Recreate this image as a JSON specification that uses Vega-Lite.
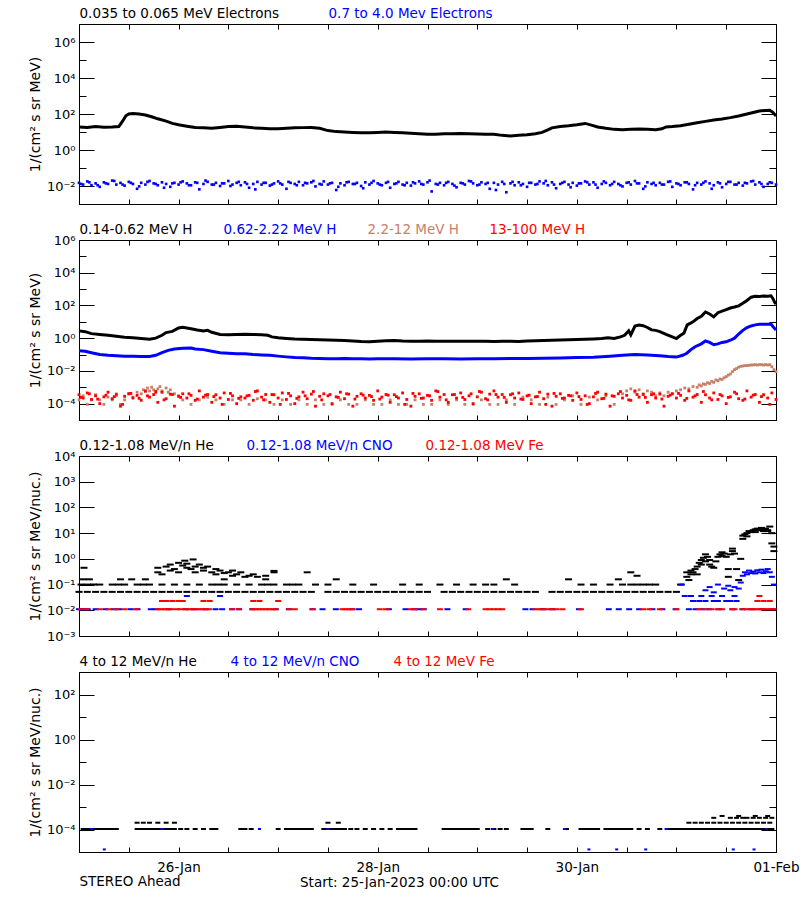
{
"$schema":"https://vega.github.io/schema/vega-lite/v6.json",
"padding":{"left":27,"top":6,"right":0,"bottom":0},
"background":"white",
"spacing":36,
"bounds":"flush",
"config":{
 "view":{"stroke":"#000000","strokeWidth":1},
 "axis":{"grid":false,"domain":false,"tickColor":"#000000","labelColor":"#000000","titleColor":"#000000","labelFont":"DejaVu Sans","labelFontSize":13,"titleFont":"DejaVu Sans","titleFontSize":14,"titleFontWeight":"normal","tickWidth":1},
 "legend":{"labelFont":"DejaVu Sans","labelFontSize":13.5,"labelLimit":0,"padding":0}
},
"resolve":{"scale":{"x":"independent","y":"independent","color":"independent"},"legend":{"color":"independent"}},
"vconcat":[
{
 "width":697,"height":180,
 "encoding":{
  "x":{"field":"h","type":"quantitative","scale":{"domain":[0,168],"nice":false,"zero":false},"axis":null},
  "y":{"field":"v","type":"quantitative","scale":{"type":"log","domain":[0.001,10000000],"nice":false},"axis":null}
 },
 "layer":[
  {"data":{"values":[{"h":0,"v":19},{"h":2,"v":18},{"h":4,"v":20},{"h":6,"v":18.5},{"h":8,"v":19},{"h":9.6,"v":20},{"h":10.5,"v":40},{"h":11.3,"v":80},{"h":12,"v":100},{"h":13,"v":106},{"h":14.5,"v":100},{"h":16,"v":88},{"h":17.5,"v":70},{"h":19,"v":54},{"h":21,"v":40},{"h":22.5,"v":30},{"h":24,"v":25},{"h":26,"v":21},{"h":28,"v":18},{"h":30,"v":17},{"h":32,"v":16},{"h":34,"v":18},{"h":36,"v":20},{"h":38,"v":21},{"h":40,"v":19},{"h":42,"v":17},{"h":44,"v":16},{"h":46,"v":15},{"h":48,"v":15},{"h":50,"v":16},{"h":52,"v":17},{"h":54,"v":17.5},{"h":56,"v":18},{"h":58,"v":16},{"h":60,"v":12},{"h":62,"v":10.5},{"h":64,"v":10},{"h":66,"v":9.5},{"h":68,"v":9},{"h":70,"v":9},{"h":72,"v":9.5},{"h":74,"v":10},{"h":76,"v":9.5},{"h":78,"v":9},{"h":80,"v":8.5},{"h":82,"v":8},{"h":84,"v":7.5},{"h":86,"v":7.6},{"h":88,"v":8},{"h":90,"v":8},{"h":92,"v":8.3},{"h":94,"v":8},{"h":96,"v":7.8},{"h":98,"v":7.6},{"h":100,"v":7.4},{"h":102,"v":6.5},{"h":104,"v":6},{"h":106,"v":6.5},{"h":108,"v":7},{"h":110,"v":8},{"h":111.6,"v":9.5},{"h":113,"v":13},{"h":114,"v":17},{"h":116,"v":20},{"h":118,"v":22},{"h":120,"v":25},{"h":122,"v":30},{"h":123.5,"v":24},{"h":125,"v":19},{"h":127,"v":16},{"h":129,"v":14},{"h":131,"v":13.5},{"h":133,"v":14},{"h":135,"v":14.5},{"h":137,"v":14},{"h":139,"v":13.5},{"h":140.5,"v":15},{"h":141.5,"v":19},{"h":143,"v":20},{"h":145,"v":22},{"h":147,"v":27},{"h":149,"v":33},{"h":151,"v":39},{"h":153,"v":46},{"h":155,"v":53},{"h":157,"v":63},{"h":159,"v":78},{"h":161,"v":100},{"h":162.5,"v":122},{"h":164,"v":145},{"h":165.5,"v":158},{"h":166.5,"v":162},{"h":167.3,"v":120},{"h":168,"v":78}]},
   "mark":{"type":"line","strokeWidth":3},
   "encoding":{
    "x":{"field":"h","type":"quantitative","scale":{"domain":[0,168],"nice":false,"zero":false},"axis":{"orient":"bottom","values":[0,12,24,36,48,60,72,84,96,108,120,132,144,156,168],"tickSize":-5,"labels":false,"title":null}},
    "y":{"field":"v","type":"quantitative","scale":{"type":"log","domain":[0.001,10000000],"nice":false},"axis":{"orient":"left","values":[0.001,0.01,0.1,1,10,100,1000,10000,100000,1000000,10000000],"tickSize":{"condition":{"test":"round(log(datum.value)/LN10)%2!=0","value":-7},"value":-15},"labelPadding":19,"labelOverlap":false,"labelFlush":false,"labelExpr":"['','10⁻²','','10⁰','','10²','','10⁴','','10⁶',''][round(log(datum.value)/LN10)+3]","title":"1/(cm² s sr MeV)","titleX":-40,"titleY":90,"titleAngle":-90,"titleAlign":"center","titleBaseline":"alphabetic"}},
    "color":{"datum":"0.035 to 0.065 MeV Electrons","type":"nominal","scale":{"domain":["0.035 to 0.065 MeV Electrons","0.7 to 4.0 Mev Electrons"],"range":["#000000","#0000ff"]},
     "legend":{"orient":"none","legendX":-13,"legendY":-17,"direction":"horizontal","title":null,"symbolSize":0.01,"symbolStrokeWidth":0,"symbolOpacity":0,"labelOffset":0.01,"columnPadding":35,"encode":{"labels":{"update":{"fill":{"signal":"['#000000','#0000ff'][datum.index]"}}}}}}
   }},
  {"data":{"values":[{"h":0,"v":0.015},{"h":1,"v":0.012},{"h":2,"v":0.018},{"h":3,"v":0.011},{"h":4,"v":0.014},{"h":5,"v":0.009},{"h":6,"v":0.016},{"h":7,"v":0.013},{"h":8,"v":0.02},{"h":9,"v":0.012},{"h":10,"v":0.015},{"h":11,"v":0.0105},{"h":12,"v":0.017},{"h":13,"v":0.013},{"h":14,"v":0.007},{"h":15,"v":0.015},{"h":16,"v":0.012},{"h":17,"v":0.019},{"h":18,"v":0.014},{"h":19,"v":0.011},{"h":20,"v":0.016},{"h":21,"v":0.013},{"h":22,"v":0.009},{"h":23,"v":0.015},{"h":24,"v":0.012},{"h":25,"v":0.018},{"h":26,"v":0.014},{"h":27,"v":0.011},{"h":28,"v":0.016},{"h":29,"v":0.0065},{"h":30,"v":0.013},{"h":31,"v":0.017},{"h":32,"v":0.012},{"h":33,"v":0.015},{"h":34,"v":0.01},{"h":35,"v":0.014},{"h":36,"v":0.019},{"h":37,"v":0.012},{"h":38,"v":0.015},{"h":39,"v":0.011},{"h":40,"v":0.016},{"h":41,"v":0.008},{"h":42,"v":0.013},{"h":43,"v":0.017},{"h":44,"v":0.012},{"h":45,"v":0.015},{"h":46,"v":0.0105},{"h":47,"v":0.014},{"h":48,"v":0.018},{"h":49,"v":0.012},{"h":50,"v":0.007},{"h":51,"v":0.015},{"h":52,"v":0.013},{"h":53,"v":0.017},{"h":54,"v":0.011},{"h":55,"v":0.014},{"h":56,"v":0.016},{"h":57,"v":0.0095},{"h":58,"v":0.013},{"h":59,"v":0.018},{"h":60,"v":0.012},{"h":61,"v":0.015},{"h":62,"v":0.006},{"h":63,"v":0.014},{"h":64,"v":0.011},{"h":65,"v":0.017},{"h":66,"v":0.013},{"h":67,"v":0.015},{"h":68,"v":0.01},{"h":69,"v":0.016},{"h":70,"v":0.012},{"h":71,"v":0.019},{"h":72,"v":0.014},{"h":73,"v":0.011},{"h":74,"v":0.015},{"h":75,"v":0.008},{"h":76,"v":0.013},{"h":77,"v":0.017},{"h":78,"v":0.012},{"h":79,"v":0.015},{"h":80,"v":0.0105},{"h":81,"v":0.014},{"h":82,"v":0.018},{"h":83,"v":0.012},{"h":84,"v":0.016},{"h":85,"v":0.005},{"h":86,"v":0.013},{"h":87,"v":0.015},{"h":88,"v":0.011},{"h":89,"v":0.017},{"h":90,"v":0.013},{"h":91,"v":0.0085},{"h":92,"v":0.015},{"h":93,"v":0.012},{"h":94,"v":0.019},{"h":95,"v":0.014},{"h":96,"v":0.011},{"h":97,"v":0.016},{"h":98,"v":0.013},{"h":99,"v":0.007},{"h":100,"v":0.015},{"h":101,"v":0.012},{"h":102,"v":0.017},{"h":103,"v":0.0045},{"h":104,"v":0.014},{"h":105,"v":0.011},{"h":106,"v":0.016},{"h":107,"v":0.013},{"h":108,"v":0.009},{"h":109,"v":0.015},{"h":110,"v":0.012},{"h":111,"v":0.018},{"h":112,"v":0.014},{"h":113,"v":0.011},{"h":114,"v":0.016},{"h":115,"v":0.0075},{"h":116,"v":0.013},{"h":117,"v":0.017},{"h":118,"v":0.012},{"h":119,"v":0.015},{"h":120,"v":0.0105},{"h":121,"v":0.014},{"h":122,"v":0.018},{"h":123,"v":0.012},{"h":124,"v":0.016},{"h":125,"v":0.008},{"h":126,"v":0.013},{"h":127,"v":0.015},{"h":128,"v":0.011},{"h":129,"v":0.017},{"h":130,"v":0.013},{"h":131,"v":0.0095},{"h":132,"v":0.015},{"h":133,"v":0.012},{"h":134,"v":0.019},{"h":135,"v":0.014},{"h":136,"v":0.007},{"h":137,"v":0.016},{"h":138,"v":0.013},{"h":139,"v":0.011},{"h":140,"v":0.015},{"h":141,"v":0.012},{"h":142,"v":0.017},{"h":143,"v":0.009},{"h":144,"v":0.014},{"h":145,"v":0.011},{"h":146,"v":0.016},{"h":147,"v":0.013},{"h":148,"v":0.0065},{"h":149,"v":0.015},{"h":150,"v":0.012},{"h":151,"v":0.018},{"h":152,"v":0.014},{"h":153,"v":0.011},{"h":154,"v":0.016},{"h":155,"v":0.0085},{"h":156,"v":0.013},{"h":157,"v":0.017},{"h":158,"v":0.012},{"h":159,"v":0.015},{"h":160,"v":0.0105},{"h":161,"v":0.014},{"h":162,"v":0.018},{"h":163,"v":0.012},{"h":164,"v":0.016},{"h":165,"v":0.009},{"h":166,"v":0.013},{"h":167,"v":0.015},{"h":168,"v":0.012},{"h":0.5,"v":0.013},{"h":2.5,"v":0.016},{"h":4.5,"v":0.011},{"h":6.5,"v":0.014},{"h":8.5,"v":0.019},{"h":10.5,"v":0.012},{"h":12.5,"v":0.015},{"h":14.5,"v":0.0095},{"h":16.5,"v":0.017},{"h":18.5,"v":0.013},{"h":20.5,"v":0.008},{"h":22.5,"v":0.014},{"h":24.5,"v":0.016},{"h":26.5,"v":0.011},{"h":28.5,"v":0.015},{"h":30.5,"v":0.02},{"h":32.5,"v":0.012},{"h":34.5,"v":0.014},{"h":36.5,"v":0.01},{"h":38.5,"v":0.017},{"h":40.5,"v":0.013},{"h":42.5,"v":0.0065},{"h":44.5,"v":0.015},{"h":46.5,"v":0.012},{"h":48.5,"v":0.014},{"h":50.5,"v":0.017},{"h":52.5,"v":0.011},{"h":54.5,"v":0.015},{"h":56.5,"v":0.019},{"h":58.5,"v":0.012},{"h":60.5,"v":0.014},{"h":62.5,"v":0.009},{"h":64.5,"v":0.016},{"h":66.5,"v":0.013},{"h":68.5,"v":0.0075},{"h":70.5,"v":0.015},{"h":72.5,"v":0.012},{"h":74.5,"v":0.017},{"h":76.5,"v":0.014},{"h":78.5,"v":0.011},{"h":80.5,"v":0.016},{"h":82.5,"v":0.013},{"h":84.5,"v":0.02},{"h":86.5,"v":0.012},{"h":88.5,"v":0.015},{"h":90.5,"v":0.0105},{"h":92.5,"v":0.014},{"h":94.5,"v":0.018},{"h":96.5,"v":0.012},{"h":98.5,"v":0.015},{"h":100.5,"v":0.006},{"h":102.5,"v":0.013},{"h":104.5,"v":0.017},{"h":106.5,"v":0.011},{"h":108.5,"v":0.015},{"h":110.5,"v":0.013},{"h":112.5,"v":0.019},{"h":114.5,"v":0.012},{"h":116.5,"v":0.015},{"h":118.5,"v":0.0085},{"h":120.5,"v":0.014},{"h":122.5,"v":0.016},{"h":124.5,"v":0.012},{"h":126.5,"v":0.018},{"h":128.5,"v":0.013},{"h":130.5,"v":0.011},{"h":132.5,"v":0.016},{"h":134.5,"v":0.014},{"h":136.5,"v":0.0095},{"h":138.5,"v":0.015},{"h":140.5,"v":0.012},{"h":142.5,"v":0.018},{"h":144.5,"v":0.013},{"h":146.5,"v":0.016},{"h":148.5,"v":0.011},{"h":150.5,"v":0.015},{"h":152.5,"v":0.007},{"h":154.5,"v":0.014},{"h":156.5,"v":0.017},{"h":158.5,"v":0.012},{"h":160.5,"v":0.015},{"h":162.5,"v":0.019},{"h":164.5,"v":0.013},{"h":166.5,"v":0.016}]},
   "mark":{"type":"square","size":7,"opacity":1},
   "encoding":{
    "x":{"field":"h","type":"quantitative","scale":{"domain":[0,168],"nice":false,"zero":false},"axis":{"orient":"top","values":[0,12,24,36,48,60,72,84,96,108,120,132,144,156,168],"tickSize":-5,"labels":false,"title":null}},
    "y":{"field":"v","type":"quantitative","scale":{"type":"log","domain":[0.001,10000000],"nice":false},"axis":{"orient":"right","values":[0.001,0.01,0.1,1,10,100,1000,10000,100000,1000000,10000000],"tickSize":{"condition":{"test":"round(log(datum.value)/LN10)%2!=0","value":-7},"value":-15},"labels":false,"title":null}},
    "color":{"datum":"0.7 to 4.0 Mev Electrons","type":"nominal"}
   }}
 ],
 "resolve":{"axis":{"x":"independent","y":"independent"}}
},
{
 "width":697,"height":180,
 "encoding":{
  "x":{"field":"h","type":"quantitative","scale":{"domain":[0,168],"nice":false,"zero":false},"axis":null},
  "y":{"field":"v","type":"quantitative","scale":{"type":"log","domain":[0.00001,1000000],"nice":false},"axis":null}
 },
 "layer":[
  {"data":{"values":[{"h":0,"v":2.8},{"h":1.5,"v":2.5},{"h":3,"v":1.9},{"h":5,"v":1.7},{"h":7,"v":1.5},{"h":9,"v":1.3},{"h":11,"v":1.15},{"h":13,"v":1.07},{"h":15,"v":0.95},{"h":17,"v":0.85},{"h":18.5,"v":1},{"h":20,"v":1.5},{"h":21,"v":2.2},{"h":22.5,"v":2.6},{"h":24,"v":4.2},{"h":25,"v":4.6},{"h":26,"v":4.2},{"h":27,"v":3.8},{"h":28.5,"v":3.2},{"h":30,"v":2.8},{"h":31,"v":3},{"h":32,"v":2.3},{"h":34,"v":1.7},{"h":36,"v":1.6},{"h":38,"v":1.7},{"h":40,"v":1.75},{"h":42,"v":1.7},{"h":44,"v":1.6},{"h":45.5,"v":1.5},{"h":46.5,"v":1.2},{"h":48,"v":1.05},{"h":50,"v":0.95},{"h":52,"v":0.88},{"h":54,"v":0.85},{"h":56,"v":0.82},{"h":58,"v":0.8},{"h":60,"v":0.78},{"h":62,"v":0.76},{"h":64,"v":0.72},{"h":66,"v":0.68},{"h":68,"v":0.62},{"h":70,"v":0.6},{"h":72,"v":0.65},{"h":74,"v":0.7},{"h":76,"v":0.72},{"h":78,"v":0.68},{"h":80,"v":0.66},{"h":82,"v":0.65},{"h":84,"v":0.67},{"h":86,"v":0.66},{"h":88,"v":0.65},{"h":90,"v":0.66},{"h":92,"v":0.64},{"h":94,"v":0.65},{"h":96,"v":0.66},{"h":98,"v":0.64},{"h":100,"v":0.63},{"h":102,"v":0.65},{"h":104,"v":0.66},{"h":106,"v":0.62},{"h":108,"v":0.68},{"h":110,"v":0.7},{"h":112,"v":0.72},{"h":114,"v":0.75},{"h":116,"v":0.78},{"h":118,"v":0.8},{"h":120,"v":0.82},{"h":122,"v":0.85},{"h":124,"v":0.9},{"h":126,"v":0.95},{"h":127.5,"v":1.05},{"h":129,"v":0.95},{"h":130.5,"v":1.2},{"h":131.5,"v":1.5},{"h":132.5,"v":2.8},{"h":133,"v":1.6},{"h":134,"v":5.5},{"h":135,"v":6.3},{"h":136,"v":5.8},{"h":137,"v":4.5},{"h":138,"v":3.2},{"h":139,"v":3},{"h":140,"v":2.5},{"h":141.5,"v":1.7},{"h":143,"v":1.2},{"h":144,"v":0.95},{"h":145,"v":1.5},{"h":145.8,"v":2},{"h":146.6,"v":6.5},{"h":147.3,"v":8},{"h":148,"v":10},{"h":149,"v":16},{"h":150,"v":22},{"h":151,"v":40},{"h":152,"v":30},{"h":153,"v":20},{"h":154,"v":36},{"h":155,"v":45},{"h":156,"v":55},{"h":157,"v":70},{"h":158,"v":80},{"h":159,"v":95},{"h":160,"v":135},{"h":161,"v":200},{"h":162,"v":320},{"h":163,"v":360},{"h":164,"v":350},{"h":165,"v":380},{"h":166,"v":370},{"h":166.8,"v":390},{"h":167.3,"v":250},{"h":167.7,"v":150},{"h":168,"v":120}]},
   "mark":{"type":"line","strokeWidth":3},
   "encoding":{
    "x":{"field":"h","type":"quantitative","scale":{"domain":[0,168],"nice":false,"zero":false},"axis":{"orient":"bottom","values":[0,12,24,36,48,60,72,84,96,108,120,132,144,156,168],"tickSize":-5,"labels":false,"title":null}},
    "y":{"field":"v","type":"quantitative","scale":{"type":"log","domain":[0.00001,1000000],"nice":false},"axis":{"orient":"left","values":[0.00001,0.0001,0.001,0.01,0.1,1,10,100,1000,10000,100000,1000000],"tickSize":{"condition":{"test":"round(log(datum.value)/LN10)%2!=0","value":-7},"value":-15},"labelPadding":19,"labelOverlap":false,"labelFlush":false,"labelExpr":"['','10⁻⁴','','10⁻²','','10⁰','','10²','','10⁴','','10⁶'][round(log(datum.value)/LN10)+5]","title":"1/(cm² s sr MeV)","titleX":-40,"titleY":90,"titleAngle":-90,"titleAlign":"center","titleBaseline":"alphabetic"}},
    "color":{"datum":"0.14-0.62 MeV H","type":"nominal","scale":{"domain":["0.14-0.62 MeV H","0.62-2.22 MeV H","2.2-12 MeV H","13-100 MeV H"],"range":["#000000","#0000ff","#c88068","#ff0000"]},
     "legend":{"orient":"none","legendX":-13,"legendY":-17,"direction":"horizontal","title":null,"symbolSize":0.01,"symbolStrokeWidth":0,"symbolOpacity":0,"labelOffset":0.01,"columnPadding":17,"encode":{"labels":{"update":{"fill":{"signal":"['#000000','#0000ff','#c88068','#ff0000'][datum.index]"}}}}}}
   }},
  {"data":{"values":[{"h":0,"v":0.17},{"h":1.5,"v":0.16},{"h":3,"v":0.13},{"h":5,"v":0.1},{"h":7,"v":0.09},{"h":9,"v":0.085},{"h":11,"v":0.08},{"h":13,"v":0.08},{"h":15,"v":0.075},{"h":17,"v":0.075},{"h":18.5,"v":0.09},{"h":20,"v":0.13},{"h":21.5,"v":0.18},{"h":23,"v":0.22},{"h":25,"v":0.24},{"h":27,"v":0.25},{"h":28,"v":0.22},{"h":30,"v":0.2},{"h":32,"v":0.16},{"h":34,"v":0.13},{"h":36,"v":0.12},{"h":38,"v":0.11},{"h":40,"v":0.11},{"h":42,"v":0.1},{"h":44,"v":0.095},{"h":46,"v":0.09},{"h":48,"v":0.08},{"h":50,"v":0.072},{"h":52,"v":0.066},{"h":54,"v":0.064},{"h":56,"v":0.06},{"h":58,"v":0.058},{"h":60,"v":0.056},{"h":62,"v":0.055},{"h":64,"v":0.057},{"h":66,"v":0.055},{"h":68,"v":0.056},{"h":70,"v":0.054},{"h":72,"v":0.055},{"h":74,"v":0.056},{"h":76,"v":0.055},{"h":80,"v":0.054},{"h":84,"v":0.056},{"h":88,"v":0.055},{"h":92,"v":0.054},{"h":96,"v":0.056},{"h":100,"v":0.056},{"h":104,"v":0.057},{"h":108,"v":0.058},{"h":112,"v":0.06},{"h":116,"v":0.062},{"h":120,"v":0.065},{"h":124,"v":0.068},{"h":128,"v":0.08},{"h":131,"v":0.09},{"h":134,"v":0.1},{"h":137,"v":0.095},{"h":140,"v":0.085},{"h":142,"v":0.075},{"h":144,"v":0.07},{"h":145.5,"v":0.09},{"h":146.5,"v":0.12},{"h":147.5,"v":0.2},{"h":148.5,"v":0.3},{"h":150,"v":0.45},{"h":151,"v":0.67},{"h":152,"v":0.55},{"h":153,"v":0.4},{"h":154,"v":0.45},{"h":155,"v":0.55},{"h":156,"v":0.6},{"h":157,"v":0.75},{"h":158,"v":1},{"h":159,"v":1.8},{"h":160,"v":3},{"h":161,"v":4.5},{"h":162,"v":5.6},{"h":163,"v":6.5},{"h":164,"v":7},{"h":165,"v":7.2},{"h":166,"v":7},{"h":166.8,"v":7.2},{"h":167.3,"v":5},{"h":168,"v":3.2}]},
   "mark":{"type":"line","strokeWidth":3},
   "encoding":{"color":{"datum":"0.62-2.22 MeV H","type":"nominal"}}},
  {"data":{"values":[{"h":0,"v":0.00017},{"h":1,"v":0.0003},{"h":2,"v":0.00009},{"h":3,"v":0.00017},{"h":4,"v":0.00035},{"h":5,"v":0.00017},{"h":6,"v":0.00009},{"h":7,"v":0.00025},{"h":8,"v":0.00017},{"h":9,"v":0.0003},{"h":10,"v":0.00009},{"h":11,"v":0.00017},{"h":12,"v":0.0004},{"h":13,"v":0.00025},{"h":14,"v":0.0005},{"h":15,"v":0.0004},{"h":15.5,"v":0.0007},{"h":16,"v":0.00055},{"h":16.5,"v":0.0009},{"h":17,"v":0.0006},{"h":17.5,"v":0.001},{"h":18,"v":0.0007},{"h":18.5,"v":0.00045},{"h":19,"v":0.0008},{"h":19.5,"v":0.0011},{"h":20,"v":0.0006},{"h":21,"v":0.0009},{"h":21.5,"v":0.0005},{"h":22,"v":0.0007},{"h":23,"v":0.0004},{"h":24,"v":0.0003},{"h":25,"v":0.00017},{"h":27,"v":0.00009},{"h":29,"v":0.00017},{"h":31,"v":0.00025},{"h":33,"v":0.00017},{"h":35,"v":0.00009},{"h":37,"v":0.00017},{"h":39,"v":0.00017},{"h":41,"v":0.00009},{"h":43,"v":0.0002},{"h":45,"v":0.00017},{"h":47,"v":0.00009},{"h":49,"v":0.00017},{"h":51,"v":0.00009},{"h":53,"v":0.00017},{"h":55,"v":0.00009},{"h":57,"v":0.00017},{"h":59,"v":0.00009},{"h":61,"v":0.00009},{"h":63,"v":0.00017},{"h":65,"v":0.00009},{"h":67,"v":0.00009},{"h":69,"v":0.00017},{"h":71,"v":0.00009},{"h":73,"v":0.00009},{"h":75,"v":0.00017},{"h":77,"v":0.00009},{"h":79,"v":0.00009},{"h":81,"v":0.00017},{"h":83,"v":0.00009},{"h":85,"v":0.00009},{"h":87,"v":0.00017},{"h":89,"v":0.00009},{"h":91,"v":0.00017},{"h":93,"v":0.00009},{"h":95,"v":0.00009},{"h":97,"v":0.00017},{"h":99,"v":0.00009},{"h":101,"v":0.00009},{"h":103,"v":0.00017},{"h":105,"v":0.00009},{"h":107,"v":0.00025},{"h":109,"v":0.00017},{"h":111,"v":0.00009},{"h":113,"v":0.00025},{"h":115,"v":0.00009},{"h":117,"v":0.00017},{"h":119,"v":0.0003},{"h":121,"v":0.00009},{"h":123,"v":0.00025},{"h":125,"v":0.00017},{"h":127,"v":0.0003},{"h":129,"v":0.00009},{"h":131,"v":0.0004},{"h":132,"v":0.0006},{"h":133,"v":0.0008},{"h":134,"v":0.0005},{"h":135,"v":0.0007},{"h":136,"v":0.0004},{"h":137,"v":0.0006},{"h":138,"v":0.0005},{"h":139,"v":0.0003},{"h":140,"v":0.00045},{"h":141,"v":0.0003},{"h":142,"v":0.0005},{"h":143,"v":0.0004},{"h":144,"v":0.0006},{"h":145,"v":0.0007},{"h":146,"v":0.0009},{"h":147,"v":0.0008},{"h":148,"v":0.0011},{"h":149,"v":0.001},{"h":149.5,"v":0.0014},{"h":150,"v":0.0012},{"h":150.5,"v":0.0016},{"h":151,"v":0.0015},{"h":151.5,"v":0.0019},{"h":152,"v":0.0017},{"h":152.5,"v":0.0023},{"h":153,"v":0.002},{"h":153.5,"v":0.0028},{"h":154,"v":0.0025},{"h":154.5,"v":0.0032},{"h":155,"v":0.003},{"h":155.5,"v":0.0038},{"h":156,"v":0.0045},{"h":156.5,"v":0.0055},{"h":157,"v":0.0065},{"h":157.5,"v":0.009},{"h":158,"v":0.012},{"h":158.5,"v":0.014},{"h":159,"v":0.017},{"h":159.5,"v":0.019},{"h":160,"v":0.02},{"h":160.5,"v":0.021},{"h":161,"v":0.021},{"h":161.5,"v":0.022},{"h":162,"v":0.023},{"h":162.5,"v":0.023},{"h":163,"v":0.024},{"h":163.5,"v":0.023},{"h":164,"v":0.024},{"h":164.5,"v":0.024},{"h":165,"v":0.023},{"h":165.5,"v":0.024},{"h":166,"v":0.023},{"h":166.5,"v":0.024},{"h":167,"v":0.018},{"h":167.5,"v":0.012},{"h":168,"v":0.009}]},
   "mark":{"type":"square","size":8,"opacity":1},
   "encoding":{
    "x":{"field":"h","type":"quantitative","scale":{"domain":[0,168],"nice":false,"zero":false},"axis":{"orient":"top","values":[0,12,24,36,48,60,72,84,96,108,120,132,144,156,168],"tickSize":-5,"labels":false,"title":null}},
    "y":{"field":"v","type":"quantitative","scale":{"type":"log","domain":[0.00001,1000000],"nice":false},"axis":{"orient":"right","values":[0.00001,0.0001,0.001,0.01,0.1,1,10,100,1000,10000,100000,1000000],"tickSize":{"condition":{"test":"round(log(datum.value)/LN10)%2!=0","value":-7},"value":-15},"labels":false,"title":null}},
    "color":{"datum":"2.2-12 MeV H","type":"nominal"}
   }},
  {"data":{"values":[{"h":0,"v":0.00035},{"h":1,"v":0.00022},{"h":2,"v":0.00045},{"h":3,"v":0.00018},{"h":4,"v":0.0003},{"h":5,"v":0.0001},{"h":6,"v":0.00026},{"h":7,"v":0.0005},{"h":8,"v":0.0002},{"h":9,"v":0.00038},{"h":10,"v":0.00007},{"h":11,"v":0.00028},{"h":12,"v":0.0004},{"h":13,"v":0.00022},{"h":14,"v":0.00032},{"h":15,"v":0.00016},{"h":16,"v":0.0006},{"h":17,"v":0.00025},{"h":18,"v":0.00036},{"h":19,"v":0.00012},{"h":20,"v":0.0005},{"h":21,"v":0.0002},{"h":22,"v":0.00038},{"h":23,"v":0.00007},{"h":24,"v":0.00028},{"h":25,"v":0.0004},{"h":26,"v":0.00022},{"h":27,"v":0.00032},{"h":28,"v":0.00016},{"h":29,"v":0.0006},{"h":30,"v":0.00025},{"h":31,"v":0.00036},{"h":32,"v":0.00012},{"h":33,"v":0.00035},{"h":34,"v":0.00022},{"h":35,"v":0.00045},{"h":36,"v":0.00018},{"h":37,"v":0.0003},{"h":38,"v":0.0001},{"h":39,"v":0.00026},{"h":40,"v":0.00022},{"h":41,"v":0.00032},{"h":42,"v":0.00016},{"h":43,"v":0.0006},{"h":44,"v":0.00025},{"h":45,"v":0.00036},{"h":46,"v":0.00012},{"h":47,"v":0.00035},{"h":48,"v":0.00022},{"h":49,"v":0.00045},{"h":50,"v":0.00018},{"h":51,"v":0.0003},{"h":52,"v":0.0001},{"h":53,"v":0.00026},{"h":54,"v":0.0005},{"h":55,"v":0.0002},{"h":56,"v":0.00038},{"h":57,"v":0.00007},{"h":58,"v":0.00028},{"h":59,"v":0.0004},{"h":60,"v":0.0003},{"h":61,"v":0.0001},{"h":62,"v":0.00026},{"h":63,"v":0.0005},{"h":64,"v":0.0002},{"h":65,"v":0.00038},{"h":66,"v":0.00007},{"h":67,"v":0.00028},{"h":68,"v":0.0004},{"h":69,"v":0.00022},{"h":70,"v":0.00032},{"h":71,"v":0.00016},{"h":72,"v":0.0006},{"h":73,"v":0.00025},{"h":74,"v":0.00036},{"h":75,"v":0.00012},{"h":76,"v":0.00035},{"h":77,"v":0.00022},{"h":78,"v":0.00045},{"h":79,"v":0.00018},{"h":80,"v":0.00007},{"h":81,"v":0.00028},{"h":82,"v":0.0004},{"h":83,"v":0.00022},{"h":84,"v":0.00032},{"h":85,"v":0.00016},{"h":86,"v":0.0006},{"h":87,"v":0.00025},{"h":88,"v":0.00036},{"h":89,"v":0.00012},{"h":90,"v":0.00035},{"h":91,"v":0.00022},{"h":92,"v":0.00045},{"h":93,"v":0.00018},{"h":94,"v":0.0003},{"h":95,"v":0.0001},{"h":96,"v":0.00026},{"h":97,"v":0.0005},{"h":98,"v":0.0002},{"h":99,"v":0.00038},{"h":100,"v":0.0006},{"h":101,"v":0.00025},{"h":102,"v":0.00036},{"h":103,"v":0.00012},{"h":104,"v":0.00035},{"h":105,"v":0.00022},{"h":106,"v":0.00045},{"h":107,"v":0.00018},{"h":108,"v":0.0003},{"h":109,"v":0.0001},{"h":110,"v":0.00026},{"h":111,"v":0.0005},{"h":112,"v":0.0002},{"h":113,"v":0.00038},{"h":114,"v":0.00007},{"h":115,"v":0.00028},{"h":116,"v":0.0004},{"h":117,"v":0.00022},{"h":118,"v":0.00032},{"h":119,"v":0.00016},{"h":120,"v":0.00045},{"h":121,"v":0.00018},{"h":122,"v":0.0003},{"h":123,"v":0.0001},{"h":124,"v":0.00026},{"h":125,"v":0.0005},{"h":126,"v":0.0002},{"h":127,"v":0.00038},{"h":128,"v":0.00007},{"h":129,"v":0.00028},{"h":130,"v":0.0004},{"h":131,"v":0.00022},{"h":132,"v":0.00032},{"h":133,"v":0.00016},{"h":134,"v":0.0006},{"h":135,"v":0.00025},{"h":136,"v":0.00036},{"h":137,"v":0.00012},{"h":138,"v":0.00035},{"h":139,"v":0.00022},{"h":140,"v":0.00038},{"h":141,"v":0.00007},{"h":142,"v":0.00028},{"h":143,"v":0.0004},{"h":144,"v":0.00022},{"h":145,"v":0.00032},{"h":146,"v":0.00016},{"h":147,"v":0.0006},{"h":148,"v":0.00025},{"h":149,"v":0.00036},{"h":150,"v":0.00012},{"h":151,"v":0.00035},{"h":152,"v":0.00022},{"h":153,"v":0.00045},{"h":154,"v":0.00018},{"h":155,"v":0.0003},{"h":156,"v":0.0001},{"h":157,"v":0.00026},{"h":158,"v":0.0005},{"h":159,"v":0.0002},{"h":160,"v":0.00016},{"h":161,"v":0.0006},{"h":162,"v":0.00025},{"h":163,"v":0.00036},{"h":164,"v":0.00012},{"h":165,"v":0.00035},{"h":166,"v":0.00022},{"h":167,"v":0.00045},{"h":168,"v":0.00018},{"h":0.5,"v":0.00024},{"h":2.5,"v":0.0004},{"h":4.5,"v":0.00019},{"h":6.5,"v":0.00033},{"h":8.5,"v":0.00027},{"h":10.5,"v":0.00009},{"h":12.5,"v":0.00042},{"h":14.5,"v":0.00021},{"h":16.5,"v":0.0003},{"h":18.5,"v":0.00055},{"h":20.5,"v":0.00017},{"h":22.5,"v":0.00036},{"h":24.5,"v":0.00024},{"h":26.5,"v":0.0004},{"h":28.5,"v":0.00019},{"h":30.5,"v":0.00033},{"h":32.5,"v":0.00027},{"h":34.5,"v":0.00009},{"h":36.5,"v":0.00042},{"h":38.5,"v":0.00021},{"h":40.5,"v":0.0003},{"h":42.5,"v":0.00055},{"h":44.5,"v":0.00017},{"h":46.5,"v":0.00036},{"h":48.5,"v":0.00009},{"h":50.5,"v":0.00042},{"h":52.5,"v":0.00021},{"h":54.5,"v":0.0003},{"h":56.5,"v":0.00055},{"h":58.5,"v":0.00017},{"h":60.5,"v":0.00036},{"h":62.5,"v":0.00024},{"h":64.5,"v":0.0004},{"h":66.5,"v":0.00019},{"h":68.5,"v":0.00033},{"h":70.5,"v":0.00027},{"h":72.5,"v":0.00019},{"h":74.5,"v":0.00033},{"h":76.5,"v":0.00027},{"h":78.5,"v":0.00009},{"h":80.5,"v":0.00042},{"h":82.5,"v":0.00021},{"h":84.5,"v":0.0003},{"h":86.5,"v":0.00055},{"h":88.5,"v":0.00017},{"h":90.5,"v":0.00036},{"h":92.5,"v":0.00024},{"h":94.5,"v":0.0004},{"h":96.5,"v":0.00055},{"h":98.5,"v":0.00017},{"h":100.5,"v":0.00036},{"h":102.5,"v":0.00024},{"h":104.5,"v":0.0004},{"h":106.5,"v":0.00019},{"h":108.5,"v":0.00033},{"h":110.5,"v":0.00027},{"h":112.5,"v":0.00009},{"h":114.5,"v":0.00042},{"h":116.5,"v":0.00021},{"h":118.5,"v":0.0003},{"h":120.5,"v":0.00027},{"h":122.5,"v":0.00009},{"h":124.5,"v":0.00042},{"h":126.5,"v":0.00021},{"h":128.5,"v":0.0003},{"h":130.5,"v":0.00055},{"h":132.5,"v":0.00017},{"h":134.5,"v":0.00036},{"h":136.5,"v":0.00024},{"h":138.5,"v":0.0004},{"h":140.5,"v":0.00019},{"h":142.5,"v":0.00033},{"h":144.5,"v":0.00042},{"h":146.5,"v":0.00021},{"h":148.5,"v":0.0003},{"h":150.5,"v":0.00055},{"h":152.5,"v":0.00017},{"h":154.5,"v":0.00036},{"h":156.5,"v":0.00024},{"h":158.5,"v":0.0004},{"h":160.5,"v":0.00019},{"h":162.5,"v":0.00033},{"h":164.5,"v":0.00027},{"h":166.5,"v":0.00009}]},
   "mark":{"type":"square","size":8,"opacity":1},
   "encoding":{"color":{"datum":"13-100 MeV H","type":"nominal"}}}
 ],
 "resolve":{"axis":{"x":"independent","y":"independent"}}
},
{
 "width":697,"height":180,
 "encoding":{
  "x":{"field":"h","type":"quantitative","scale":{"domain":[0,168],"nice":false,"zero":false},"axis":null},
  "y":{"field":"v","type":"quantitative","scale":{"type":"log","domain":[0.001,10000],"nice":false},"axis":null}
 },
 "layer":[
  {"data":{"values":[{"h":0,"v":0.052},{"h":2,"v":0.052},{"h":4,"v":0.052},{"h":6,"v":0.052},{"h":8,"v":0.052},{"h":10,"v":0.052},{"h":12,"v":0.052},{"h":14,"v":0.052},{"h":16,"v":0.052},{"h":18,"v":0.052},{"h":20,"v":0.052},{"h":22,"v":0.052},{"h":24,"v":0.052},{"h":26,"v":0.052},{"h":28,"v":0.052},{"h":30,"v":0.052},{"h":32,"v":0.052},{"h":34,"v":0.052},{"h":36,"v":0.052},{"h":38,"v":0.052},{"h":40,"v":0.052},{"h":42,"v":0.052},{"h":44,"v":0.052},{"h":46,"v":0.052},{"h":48,"v":0.052},{"h":50,"v":0.052},{"h":52,"v":0.052},{"h":54,"v":0.052},{"h":56,"v":0.052},{"h":60,"v":0.052},{"h":62,"v":0.052},{"h":64,"v":0.052},{"h":66,"v":0.052},{"h":68,"v":0.052},{"h":70,"v":0.052},{"h":72,"v":0.052},{"h":74,"v":0.052},{"h":76,"v":0.052},{"h":78,"v":0.052},{"h":80,"v":0.052},{"h":82,"v":0.052},{"h":84,"v":0.052},{"h":88,"v":0.052},{"h":90,"v":0.052},{"h":92,"v":0.052},{"h":94,"v":0.052},{"h":96,"v":0.052},{"h":98,"v":0.052},{"h":100,"v":0.052},{"h":102,"v":0.052},{"h":104,"v":0.052},{"h":106,"v":0.052},{"h":108,"v":0.052},{"h":110,"v":0.052},{"h":114,"v":0.052},{"h":116,"v":0.052},{"h":118,"v":0.052},{"h":120,"v":0.052},{"h":122,"v":0.052},{"h":124,"v":0.052},{"h":126,"v":0.052},{"h":128,"v":0.052},{"h":130,"v":0.052},{"h":132,"v":0.052},{"h":134,"v":0.052},{"h":136,"v":0.052},{"h":138,"v":0.052},{"h":140,"v":0.052},{"h":142,"v":0.052},{"h":144,"v":0.052},{"h":0.5,"v":0.1},{"h":2,"v":0.1},{"h":3.5,"v":0.1},{"h":5,"v":0.1},{"h":8,"v":0.1},{"h":9.5,"v":0.1},{"h":11,"v":0.1},{"h":14,"v":0.1},{"h":15.5,"v":0.1},{"h":17,"v":0.1},{"h":20,"v":0.1},{"h":23,"v":0.1},{"h":26,"v":0.1},{"h":29,"v":0.1},{"h":32,"v":0.1},{"h":33.5,"v":0.1},{"h":35,"v":0.1},{"h":38,"v":0.1},{"h":41,"v":0.1},{"h":44,"v":0.1},{"h":45.5,"v":0.1},{"h":47,"v":0.1},{"h":50,"v":0.1},{"h":51.5,"v":0.1},{"h":53,"v":0.1},{"h":57,"v":0.1},{"h":60,"v":0.1},{"h":66,"v":0.1},{"h":71,"v":0.1},{"h":78,"v":0.1},{"h":82,"v":0.1},{"h":87,"v":0.1},{"h":91,"v":0.1},{"h":95,"v":0.1},{"h":98,"v":0.1},{"h":100,"v":0.1},{"h":105,"v":0.1},{"h":121,"v":0.1},{"h":124,"v":0.1},{"h":128,"v":0.1},{"h":131,"v":0.1},{"h":133,"v":0.1},{"h":134.5,"v":0.1},{"h":136,"v":0.1},{"h":137.5,"v":0.1},{"h":139,"v":0.1},{"h":145,"v":0.1},{"h":1,"v":0.16},{"h":2.5,"v":0.16},{"h":10,"v":0.16},{"h":12.7,"v":0.16},{"h":16,"v":0.16},{"h":35,"v":0.16},{"h":45,"v":0.16},{"h":62,"v":0.16},{"h":103,"v":0.16},{"h":118,"v":0.16},{"h":130,"v":0.16},{"h":1.2,"v":0.45},{"h":47,"v":0.34},{"h":55,"v":0.3},{"h":133,"v":0.3},{"h":134.5,"v":0.22},{"h":19,"v":0.3},{"h":19,"v":0.45},{"h":20,"v":0.25},{"h":21,"v":0.5},{"h":22,"v":0.35},{"h":22,"v":0.6},{"h":23,"v":0.4},{"h":24,"v":0.7},{"h":24,"v":0.3},{"h":25,"v":0.55},{"h":25.5,"v":0.85},{"h":26,"v":0.45},{"h":26,"v":0.65},{"h":27,"v":0.4},{"h":27.5,"v":0.95},{"h":28,"v":0.5},{"h":28,"v":0.3},{"h":29,"v":0.6},{"h":30,"v":0.35},{"h":30,"v":0.45},{"h":31,"v":0.5},{"h":32,"v":0.3},{"h":33,"v":0.4},{"h":33,"v":0.25},{"h":34,"v":0.35},{"h":35,"v":0.28},{"h":36,"v":0.3},{"h":37,"v":0.22},{"h":37,"v":0.35},{"h":38,"v":0.25},{"h":39,"v":0.3},{"h":40,"v":0.2},{"h":41,"v":0.22},{"h":42,"v":0.25},{"h":43,"v":0.2},{"h":45,"v":0.22},{"h":47,"v":0.3},{"h":146.5,"v":0.2},{"h":146.5,"v":0.3},{"h":147,"v":0.15},{"h":147.5,"v":0.35},{"h":147.5,"v":0.25},{"h":148,"v":0.3},{"h":148.5,"v":0.4},{"h":149,"v":0.25},{"h":149,"v":0.5},{"h":149.5,"v":0.7},{"h":150,"v":0.6},{"h":150,"v":0.9},{"h":150.5,"v":1.1},{"h":151,"v":0.8},{"h":151,"v":1.5},{"h":151.5,"v":1.2},{"h":152,"v":0.6},{"h":152,"v":0.9},{"h":152.5,"v":0.5},{"h":153,"v":0.45},{"h":153.5,"v":0.8},{"h":154,"v":1.2},{"h":154.5,"v":1.5},{"h":155,"v":1.8},{"h":155,"v":1.3},{"h":155.5,"v":1.6},{"h":156,"v":1.2},{"h":156.5,"v":0.4},{"h":156.5,"v":0.2},{"h":157,"v":1.5},{"h":157.5,"v":2},{"h":157.5,"v":2.5},{"h":158,"v":1.6},{"h":158.5,"v":0.4},{"h":159,"v":0.15},{"h":159.5,"v":1},{"h":160,"v":6},{"h":160,"v":8},{"h":160.5,"v":9},{"h":161,"v":7.5},{"h":161,"v":10},{"h":161.5,"v":12},{"h":162,"v":11},{"h":162.5,"v":13},{"h":163,"v":14},{"h":163,"v":11},{"h":163.5,"v":15},{"h":164,"v":13},{"h":164.5,"v":16},{"h":165,"v":14},{"h":165,"v":12},{"h":165.5,"v":15},{"h":166,"v":12},{"h":166,"v":13},{"h":166.5,"v":18},{"h":167,"v":10},{"h":167,"v":4},{"h":167.5,"v":3},{"h":167.5,"v":2}]},
   "mark":{"type":"tick","orient":"horizontal","size":7,"thickness":2,"opacity":1},
   "encoding":{
    "x":{"field":"h","type":"quantitative","scale":{"domain":[0,168],"nice":false,"zero":false},"axis":{"orient":"bottom","values":[0,12,24,36,48,60,72,84,96,108,120,132,144,156,168],"tickSize":-5,"labels":false,"title":null}},
    "y":{"field":"v","type":"quantitative","scale":{"type":"log","domain":[0.001,10000],"nice":false},"axis":{"orient":"left","values":[0.001,0.01,0.1,1,10,100,1000,10000],"tickSize":-15,"labelPadding":19,"labelOverlap":false,"labelFlush":false,"labelExpr":"['10⁻³','10⁻²','10⁻¹','10⁰','10¹','10²','10³','10⁴'][round(log(datum.value)/LN10)+3]","title":"1/(cm² s sr MeV/nuc.)","titleX":-40,"titleY":90,"titleAngle":-90,"titleAlign":"center","titleBaseline":"alphabetic"}},
    "color":{"datum":"0.12-1.08 MeV/n He","type":"nominal","scale":{"domain":["0.12-1.08 MeV/n He","0.12-1.08 MeV/n CNO","0.12-1.08 MeV Fe"],"range":["#000000","#0000ff","#ff0000"]},
     "legend":{"orient":"none","legendX":-13,"legendY":-17,"direction":"horizontal","title":null,"symbolSize":0.01,"symbolStrokeWidth":0,"symbolOpacity":0,"labelOffset":0.01,"columnPadding":19,"encode":{"labels":{"update":{"fill":{"signal":"['#000000','#0000ff','#ff0000'][datum.index]"}}}}}}
   }},
  {"data":{"values":[{"h":0,"v":0.011},{"h":0.7,"v":0.011},{"h":1.4,"v":0.011},{"h":2.1,"v":0.011},{"h":4,"v":0.011},{"h":6.4,"v":0.011},{"h":8.4,"v":0.011},{"h":9.6,"v":0.011},{"h":12.4,"v":0.011},{"h":14.1,"v":0.011},{"h":17.3,"v":0.011},{"h":18.5,"v":0.011},{"h":21.7,"v":0.011},{"h":25.7,"v":0.011},{"h":27.7,"v":0.011},{"h":30.5,"v":0.011},{"h":32.9,"v":0.011},{"h":34.5,"v":0.011},{"h":36.9,"v":0.011},{"h":38.6,"v":0.011},{"h":41.8,"v":0.011},{"h":47.4,"v":0.011},{"h":50.6,"v":0.011},{"h":56.3,"v":0.011},{"h":58.7,"v":0.011},{"h":61.9,"v":0.011},{"h":65.9,"v":0.011},{"h":67.5,"v":0.011},{"h":74.7,"v":0.011},{"h":78.7,"v":0.011},{"h":80.7,"v":0.011},{"h":81.9,"v":0.011},{"h":83.1,"v":0.011},{"h":88.8,"v":0.011},{"h":93.2,"v":0.011},{"h":107.6,"v":0.011},{"h":109.3,"v":0.011},{"h":111.7,"v":0.011},{"h":114.1,"v":0.011},{"h":120.5,"v":0.011},{"h":127.7,"v":0.011},{"h":130.1,"v":0.011},{"h":132.6,"v":0.011},{"h":135,"v":0.011},{"h":138.2,"v":0.011},{"h":140.6,"v":0.011},{"h":143.8,"v":0.011},{"h":147,"v":0.011},{"h":148.6,"v":0.011},{"h":150.2,"v":0.011},{"h":151.8,"v":0.011},{"h":154.3,"v":0.011},{"h":157.5,"v":0.011},{"h":159.9,"v":0.011},{"h":162.3,"v":0.011},{"h":164.7,"v":0.011},{"h":167.2,"v":0.011},{"h":20,"v":0.023},{"h":26,"v":0.036},{"h":34,"v":0.036},{"h":145.3,"v":0.1},{"h":146,"v":0.036},{"h":147.5,"v":0.036},{"h":150,"v":0.036},{"h":152.5,"v":0.036},{"h":155,"v":0.036},{"h":158,"v":0.036},{"h":148,"v":0.023},{"h":149.5,"v":0.023},{"h":151,"v":0.023},{"h":153,"v":0.023},{"h":154,"v":0.023},{"h":156,"v":0.023},{"h":157,"v":0.023},{"h":158.5,"v":0.023},{"h":151,"v":0.06},{"h":152,"v":0.08},{"h":153,"v":0.05},{"h":154,"v":0.1},{"h":155.5,"v":0.07},{"h":156.5,"v":0.09},{"h":157,"v":0.06},{"h":158,"v":0.08},{"h":159,"v":0.07},{"h":159.5,"v":0.12},{"h":160,"v":0.22},{"h":160.5,"v":0.3},{"h":161,"v":0.25},{"h":161.5,"v":0.35},{"h":162,"v":0.28},{"h":162.5,"v":0.32},{"h":163,"v":0.27},{"h":163.5,"v":0.36},{"h":164,"v":0.3},{"h":164.5,"v":0.38},{"h":165,"v":0.28},{"h":165.5,"v":0.33},{"h":166,"v":0.4},{"h":166.5,"v":0.3},{"h":167,"v":0.2},{"h":167.5,"v":0.1}]},
   "mark":{"type":"tick","orient":"horizontal","size":6,"thickness":2,"opacity":1},
   "encoding":{
    "x":{"field":"h","type":"quantitative","scale":{"domain":[0,168],"nice":false,"zero":false},"axis":{"orient":"top","values":[0,12,24,36,48,60,72,84,96,108,120,132,144,156,168],"tickSize":-5,"labels":false,"title":null}},
    "y":{"field":"v","type":"quantitative","scale":{"type":"log","domain":[0.001,10000],"nice":false},"axis":{"orient":"right","values":[0.001,0.01,0.1,1,10,100,1000,10000],"tickSize":-15,"labels":false,"title":null}},
    "color":{"datum":"0.12-1.08 MeV/n CNO","type":"nominal"}
   }},
  {"data":{"values":[{"h":0.5,"v":0.011},{"h":1.8,"v":0.011},{"h":5,"v":0.011},{"h":7.3,"v":0.011},{"h":8.9,"v":0.011},{"h":10.9,"v":0.011},{"h":13.7,"v":0.011},{"h":19,"v":0.011},{"h":19.8,"v":0.011},{"h":20.6,"v":0.011},{"h":21.4,"v":0.011},{"h":22.2,"v":0.011},{"h":23.6,"v":0.011},{"h":24.4,"v":0.011},{"h":25.7,"v":0.011},{"h":26.5,"v":0.011},{"h":27.3,"v":0.011},{"h":28.1,"v":0.011},{"h":28.9,"v":0.011},{"h":29.7,"v":0.011},{"h":30.5,"v":0.011},{"h":31.3,"v":0.011},{"h":36.9,"v":0.011},{"h":38.5,"v":0.011},{"h":41.8,"v":0.011},{"h":42.6,"v":0.011},{"h":43.4,"v":0.011},{"h":44.2,"v":0.011},{"h":45,"v":0.011},{"h":45.8,"v":0.011},{"h":46.6,"v":0.011},{"h":47.4,"v":0.011},{"h":50.6,"v":0.011},{"h":52,"v":0.011},{"h":56.3,"v":0.011},{"h":63.5,"v":0.011},{"h":64.3,"v":0.011},{"h":65.1,"v":0.011},{"h":65.9,"v":0.011},{"h":72.5,"v":0.011},{"h":74,"v":0.011},{"h":80,"v":0.011},{"h":81,"v":0.011},{"h":83,"v":0.011},{"h":87,"v":0.011},{"h":93.8,"v":0.011},{"h":98,"v":0.011},{"h":99,"v":0.011},{"h":100,"v":0.011},{"h":101,"v":0.011},{"h":102,"v":0.011},{"h":110,"v":0.011},{"h":111,"v":0.011},{"h":112,"v":0.011},{"h":113,"v":0.011},{"h":114,"v":0.011},{"h":115,"v":0.011},{"h":116.5,"v":0.011},{"h":121,"v":0.011},{"h":136,"v":0.011},{"h":137.5,"v":0.011},{"h":140,"v":0.011},{"h":144,"v":0.011},{"h":149.5,"v":0.011},{"h":151,"v":0.011},{"h":152.5,"v":0.011},{"h":154,"v":0.011},{"h":155,"v":0.011},{"h":157.5,"v":0.011},{"h":158,"v":0.011},{"h":160,"v":0.011},{"h":161,"v":0.011},{"h":161.8,"v":0.011},{"h":162.6,"v":0.011},{"h":163.4,"v":0.011},{"h":164.2,"v":0.011},{"h":165,"v":0.011},{"h":165.8,"v":0.011},{"h":166.6,"v":0.011},{"h":167.4,"v":0.011},{"h":20,"v":0.023},{"h":21,"v":0.023},{"h":22.5,"v":0.023},{"h":24,"v":0.023},{"h":25,"v":0.023},{"h":30,"v":0.023},{"h":31.5,"v":0.023},{"h":42,"v":0.023},{"h":43.5,"v":0.023},{"h":48,"v":0.023},{"h":163.5,"v":0.023},{"h":165,"v":0.023},{"h":166.5,"v":0.023},{"h":164,"v":0.036}]},
   "mark":{"type":"tick","orient":"horizontal","size":6,"thickness":2,"opacity":1},
   "encoding":{"color":{"datum":"0.12-1.08 MeV Fe","type":"nominal"}}}
 ],
 "resolve":{"axis":{"x":"independent","y":"independent"}}
},
{
 "width":697,"height":180,
 "encoding":{
  "x":{"field":"h","type":"quantitative","scale":{"domain":[0,168],"nice":false,"zero":false},"axis":null},
  "y":{"field":"v","type":"quantitative","scale":{"type":"log","domain":[0.00001,1000],"nice":false},"axis":null}
 },
 "layer":[
  {"data":{"values":[{"h":1,"v":0.000105},{"h":2,"v":0.000105},{"h":3,"v":0.000105},{"h":4,"v":0.000105},{"h":5,"v":0.000105},{"h":6,"v":0.000105},{"h":7,"v":0.000105},{"h":8,"v":0.000105},{"h":9,"v":0.000105},{"h":14,"v":0.000105},{"h":15,"v":0.000105},{"h":16,"v":0.000105},{"h":17,"v":0.000105},{"h":18,"v":0.000105},{"h":19,"v":0.000105},{"h":20,"v":0.000105},{"h":21,"v":0.000105},{"h":22,"v":0.000105},{"h":23,"v":0.000105},{"h":24.5,"v":0.000105},{"h":26,"v":0.000105},{"h":28,"v":0.000105},{"h":30,"v":0.000105},{"h":32,"v":0.000105},{"h":33,"v":0.000105},{"h":39,"v":0.000105},{"h":40,"v":0.000105},{"h":41.5,"v":0.000105},{"h":48,"v":0.000105},{"h":50,"v":0.000105},{"h":51,"v":0.000105},{"h":52,"v":0.000105},{"h":53,"v":0.000105},{"h":54,"v":0.000105},{"h":55,"v":0.000105},{"h":56,"v":0.000105},{"h":59,"v":0.000105},{"h":60,"v":0.000105},{"h":61,"v":0.000105},{"h":62,"v":0.000105},{"h":63,"v":0.000105},{"h":64,"v":0.000105},{"h":65.5,"v":0.000105},{"h":67,"v":0.000105},{"h":69,"v":0.000105},{"h":71,"v":0.000105},{"h":73,"v":0.000105},{"h":75,"v":0.000105},{"h":77,"v":0.000105},{"h":78,"v":0.000105},{"h":79,"v":0.000105},{"h":80,"v":0.000105},{"h":81,"v":0.000105},{"h":88,"v":0.000105},{"h":89,"v":0.000105},{"h":90,"v":0.000105},{"h":91,"v":0.000105},{"h":92,"v":0.000105},{"h":93,"v":0.000105},{"h":94,"v":0.000105},{"h":95,"v":0.000105},{"h":96,"v":0.000105},{"h":98.5,"v":0.000105},{"h":100,"v":0.000105},{"h":101.5,"v":0.000105},{"h":103,"v":0.000105},{"h":107,"v":0.000105},{"h":108,"v":0.000105},{"h":109,"v":0.000105},{"h":113,"v":0.000105},{"h":117.5,"v":0.000105},{"h":121,"v":0.000105},{"h":122,"v":0.000105},{"h":123,"v":0.000105},{"h":124,"v":0.000105},{"h":125,"v":0.000105},{"h":127,"v":0.000105},{"h":128,"v":0.000105},{"h":129,"v":0.000105},{"h":130,"v":0.000105},{"h":131,"v":0.000105},{"h":132,"v":0.000105},{"h":133,"v":0.000105},{"h":135,"v":0.000105},{"h":137,"v":0.000105},{"h":140,"v":0.000105},{"h":142,"v":0.000105},{"h":143,"v":0.000105},{"h":144,"v":0.000105},{"h":145,"v":0.000105},{"h":146,"v":0.000105},{"h":147,"v":0.000105},{"h":148,"v":0.000105},{"h":149,"v":0.000105},{"h":150,"v":0.000105},{"h":151,"v":0.000105},{"h":152,"v":0.000105},{"h":153,"v":0.000105},{"h":154,"v":0.000105},{"h":155,"v":0.000105},{"h":156,"v":0.000105},{"h":157,"v":0.000105},{"h":158,"v":0.000105},{"h":159,"v":0.000105},{"h":160,"v":0.000105},{"h":161,"v":0.000105},{"h":162,"v":0.000105},{"h":163,"v":0.000105},{"h":164,"v":0.000105},{"h":165,"v":0.000105},{"h":166,"v":0.000105},{"h":167,"v":0.000105},{"h":14,"v":0.0002},{"h":15.5,"v":0.0002},{"h":17,"v":0.0002},{"h":19,"v":0.0002},{"h":21,"v":0.0002},{"h":23,"v":0.0002},{"h":60,"v":0.0002},{"h":62.5,"v":0.0002},{"h":147,"v":0.0002},{"h":148.5,"v":0.0002},{"h":150,"v":0.0002},{"h":151.5,"v":0.0002},{"h":153,"v":0.0002},{"h":154.5,"v":0.0002},{"h":156,"v":0.0002},{"h":157.5,"v":0.0002},{"h":159,"v":0.0002},{"h":160.5,"v":0.0002},{"h":162,"v":0.0002},{"h":163.5,"v":0.0002},{"h":165,"v":0.0002},{"h":166.5,"v":0.0002},{"h":153,"v":0.00033},{"h":157,"v":0.00033},{"h":158.5,"v":0.00033},{"h":160,"v":0.00033},{"h":161,"v":0.00033},{"h":162.5,"v":0.00033},{"h":164,"v":0.00033},{"h":165.5,"v":0.00033},{"h":167,"v":0.00033},{"h":155,"v":0.0004},{"h":159,"v":0.0004},{"h":163,"v":0.0004},{"h":166,"v":0.0004}]},
   "mark":{"type":"tick","orient":"horizontal","size":5,"thickness":2,"opacity":1},
   "encoding":{
    "x":{"field":"h","type":"quantitative","scale":{"domain":[0,168],"nice":false,"zero":false},"axis":{"orient":"bottom","values":[0,12,24,36,48,60,72,84,96,108,120,132,144,156,168],"tickSize":-5,"labelPadding":13.5,"labelFlush":false,"labelOverlap":false,"labelFontSize":13.5,"labelExpr":"datum.value==24?'26-Jan':datum.value==72?'28-Jan':datum.value==120?'30-Jan':datum.value==168?'01-Feb':''","title":"Start: 25-Jan-2023 00:00 UTC","titleX":320,"titleY":34,"titleAlign":"center","titleBaseline":"alphabetic","titleFontSize":13.5}},
    "y":{"field":"v","type":"quantitative","scale":{"type":"log","domain":[0.00001,1000],"nice":false},"axis":{"orient":"left","values":[0.00001,0.0001,0.001,0.01,0.1,1,10,100,1000],"tickSize":{"condition":{"test":"round(log(datum.value)/LN10)%2!=0","value":-7},"value":-15},"labelPadding":19,"labelOverlap":false,"labelFlush":false,"labelExpr":"['','10⁻⁴','','10⁻²','','10⁰','','10²',''][round(log(datum.value)/LN10)+5]","title":"1/(cm² s sr MeV/nuc.)","titleX":-40,"titleY":90,"titleAngle":-90,"titleAlign":"center","titleBaseline":"alphabetic"}},
    "color":{"datum":"4 to 12 MeV/n He","type":"nominal","scale":{"domain":["4 to 12 MeV/n He","4 to 12 MeV/n CNO","4 to 12 MeV Fe"],"range":["#000000","#0000ff","#ff0000"]},
     "legend":{"orient":"none","legendX":-13,"legendY":-17,"direction":"horizontal","title":null,"symbolSize":0.01,"symbolStrokeWidth":0,"symbolOpacity":0,"labelOffset":0.01,"columnPadding":20,"encode":{"labels":{"update":{"fill":{"signal":"['#000000','#0000ff','#ff0000'][datum.index]"}}}}}}
   }},
  {"data":{"values":[{"h":3,"v":0.000105},{"h":20,"v":0.000105},{"h":43.5,"v":0.000105},{"h":60,"v":0.000105},{"h":99.6,"v":0.000105},{"h":117,"v":0.000105},{"h":141.5,"v":0.000105},{"h":165.7,"v":0.000105},{"h":6.1,"v":0.000013},{"h":122.9,"v":0.000013},{"h":129.6,"v":0.000013},{"h":136.6,"v":0.000013},{"h":157.7,"v":0.000013},{"h":162.7,"v":0.000013}]},
   "mark":{"type":"tick","orient":"horizontal","size":3,"thickness":2,"opacity":1},
   "encoding":{
    "x":{"field":"h","type":"quantitative","scale":{"domain":[0,168],"nice":false,"zero":false},"axis":{"orient":"top","values":[0,12,24,36,48,60,72,84,96,108,120,132,144,156,168],"tickSize":-5,"labels":false,"title":null}},
    "y":{"field":"v","type":"quantitative","scale":{"type":"log","domain":[0.00001,1000],"nice":false},"axis":{"orient":"right","values":[0.00001,0.0001,0.001,0.01,0.1,1,10,100,1000],"tickSize":{"condition":{"test":"round(log(datum.value)/LN10)%2!=0","value":-7},"value":-15},"labels":false,"title":"STEREO Ahead","titleX":-697,"titleY":213,"titleAngle":0,"titleAlign":"left","titleBaseline":"alphabetic","titleFontSize":13.5}},
    "color":{"datum":"4 to 12 MeV/n CNO","type":"nominal"}
   }}
 ],
 "resolve":{"axis":{"x":"independent","y":"independent"}}
}
]
}
